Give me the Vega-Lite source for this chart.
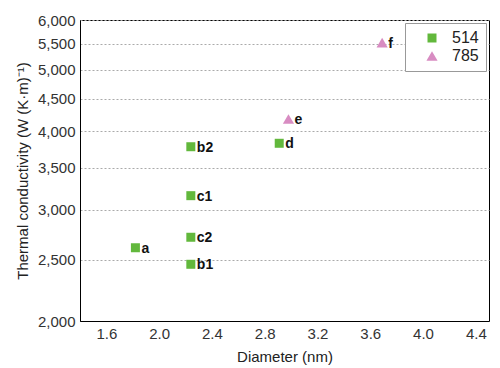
{
  "$schema": "https://vega.github.io/schema/vega-lite/v6.json",
  "width": 409,
  "height": 301,
  "autosize": {"type": "none"},
  "padding": {"left": 80, "top": 20, "right": 11, "bottom": 47},
  "background": "white",
  "config": {
    "font": "Liberation Sans",
    "view": {"stroke": "#000", "strokeWidth": 1},
    "axis": {
      "labelFont": "Liberation Sans",
      "labelFontSize": 15,
      "labelColor": "#333",
      "titleFont": "Liberation Sans",
      "titleFontSize": 15,
      "titleFontWeight": "normal",
      "titleColor": "#222",
      "ticks": false,
      "domainColor": "#000"
    }
  },
  "data": {
    "values": [
      {"diameter": 1.82, "k": 2613, "series": "514", "label": "a"},
      {"diameter": 2.24, "k": 3778, "series": "514", "label": "b2"},
      {"diameter": 2.24, "k": 3160, "series": "514", "label": "c1"},
      {"diameter": 2.24, "k": 2715, "series": "514", "label": "c2"},
      {"diameter": 2.24, "k": 2460, "series": "514", "label": "b1"},
      {"diameter": 2.91, "k": 3826, "series": "514", "label": "d"},
      {"diameter": 2.98, "k": 4180, "series": "785", "label": "e"},
      {"diameter": 3.69, "k": 5523, "series": "785", "label": "f"}
    ]
  },
  "layer": [
    {
      "mark": {"type": "point", "filled": true, "opacity": 1},
      "encoding": {
        "x": {
          "field": "diameter", "type": "quantitative",
          "scale": {"domain": [1.4, 4.5], "nice": false, "zero": false},
          "axis": {"values": [1.6, 2.0, 2.4, 2.8, 3.2, 3.6, 4.0, 4.4], "format": ".1f", "grid": false, "title": "Diameter (nm)", "labelPadding": 5, "titlePadding": 8}
        },
        "y": {
          "field": "k", "type": "quantitative",
          "scale": {"type": "log", "domain": [2000, 6000], "nice": false},
          "axis": {"values": [2000, 2500, 3000, 3500, 4000, 4500, 5000, 5500, 6000], "format": ",", "grid": true, "gridDash": [2, 2], "gridColor": "#aaa", "title": "Thermal conductivity (W (K·m)⁻¹)", "labelPadding": 5, "titlePadding": 7}
        },
        "color": {
          "field": "series", "type": "nominal",
          "scale": {"domain": ["514", "785"], "range": ["#62b83c", "#d88cc2"]},
          "legend": {"title": null, "orient": "top-right", "offset": 3, "padding": 7, "strokeColor": "#999", "fillColor": "white", "labelFont": "Liberation Sans", "labelFontSize": 16, "labelColor": "#222", "symbolOffset": 12, "rowPadding": 2, "labelOffset": 12}
        },
        "shape": {
          "field": "series", "type": "nominal",
          "scale": {"domain": ["514", "785"], "range": ["square", "triangle-up"]}
        },
        "size": {
          "field": "series", "type": "nominal",
          "scale": {"domain": ["514", "785"], "range": [81, 125]}
        }
      }
    },
    {
      "mark": {"type": "text", "align": "left", "baseline": "middle", "dx": 6, "dy": 1, "fontWeight": "bold", "fontSize": 14, "color": "#111"},
      "encoding": {
        "x": {"field": "diameter", "type": "quantitative"},
        "y": {"field": "k", "type": "quantitative"},
        "text": {"field": "label"}
      }
    }
  ]
}
